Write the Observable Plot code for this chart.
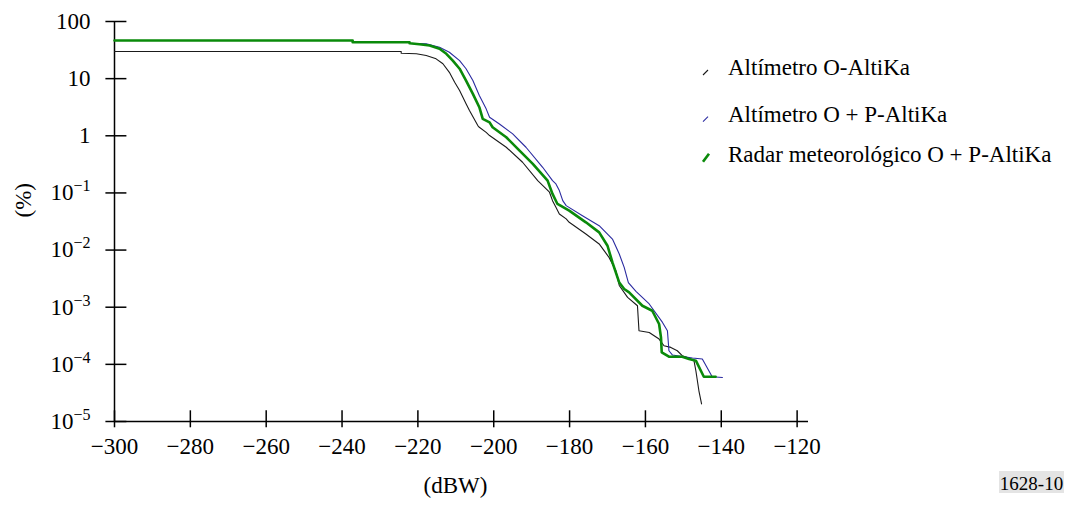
<!DOCTYPE html>
<html><head><meta charset="utf-8">
<script src="https://cdn.jsdelivr.net/npm/d3@7"></script>
<script src="https://cdn.jsdelivr.net/npm/@observablehq/plot@0.6"></script>
<style>
body{margin:0;background:#fff;}
#wrap{position:relative;width:1072px;height:507px;overflow:hidden;background:#fff;font-family:"Liberation Serif","DejaVu Serif",serif;}
#wrap svg{position:absolute;left:0;top:0;}
#wrap text{font-family:"Liberation Serif","DejaVu Serif",serif !important;}
</style></head><body><div id="wrap"></div>
<script>
const FONT = "'Liberation Serif', 'DejaVu Serif', serif";

const seriesNames = ["Altímetro O-AltiKa", "Altímetro O + P-AltiKa", "Radar meteorológico O + P-AltiKa"];
const seriesColors = ["#1a1a1a", "#2a2aa0", "#0a8a0a"];
const seriesWidths = [1.1, 1.1, 2.6];

// Altímetro O-AltiKa
const xO = [-300, -224.4, -224.4, -220.4, -217.8, -215.2, -213.4, -211.7, -210.3, -209.0, -207.3, -206.4, -204.2, -203.8, -202.0, -201.1, -196.7, -192.4, -188.4, -185.3, -184.5, -183.6, -182.7, -180.9, -180.1, -175.7, -172.2, -170.9, -169.6, -168.7, -167.8, -166.9, -164.7, -162.1, -161.7, -159.0, -156.4, -155.1, -153.3, -151.6, -150.3, -148.5, -147.2, -146.7, -145.9, -145.2];
const yO = [29.8, 29.8, 27.9, 27.2, 25.4, 22.2, 18.2, 12.9, 8.65, 6.19, 3.62, 2.76, 1.51, 1.41, 1.15, 1.01, 0.63, 0.344, 0.164, 0.103, 0.0733, 0.056, 0.0429, 0.0351, 0.0306, 0.0191, 0.0128, 0.00976, 0.00745, 0.00571, 0.00436, 0.0024, 0.00149, 0.00106, 0.000387, 0.000362, 0.000277, 0.000212, 0.000198, 0.000173, 0.000142, 0.000129, 0.000116, 0.0000773, 0.0000345, 0.0000203];

// Altímetro O + P-AltiKa
const xOP = [-300, -237.2, -237.2, -222.2, -222.2, -217.8, -214.3, -211.7, -209.0, -207.3, -205.5, -203.8, -202.0, -201.1, -198.5, -195.0, -191.5, -187.1, -184.5, -183.6, -182.7, -181.8, -180.9, -176.6, -172.2, -168.7, -166.9, -165.6, -164.5, -162.5, -159.0, -155.5, -154.2, -153.8, -152.9, -147.6, -145.0, -142.4, -139.7];
const yOP = [46.5, 46.5, 43.4, 43.4, 41.7, 40.7, 35.5, 29.0, 20.7, 14.9, 9.26, 5.06, 2.96, 2.11, 1.61, 1.08, 0.63, 0.281, 0.164, 0.144, 0.110, 0.0733, 0.06, 0.04, 0.0267, 0.0156, 0.00855, 0.00498, 0.0027, 0.0019, 0.00114, 0.000542, 0.000387, 0.000173, 0.000146, 0.000129, 0.000124, 0.0000607, 0.000059];

// Radar meteorológico O + P-AltiKa
const xRadar = [-300, -237.2, -237.2, -222.2, -222.2, -219.6, -216.9, -214.3, -212.5, -210.8, -209.0, -207.3, -205.5, -203.8, -202.9, -201.1, -200.3, -196.7, -193.2, -189.7, -186.2, -185.8, -184.5, -183.2, -180.1, -175.7, -172.2, -170.0, -168.7, -166.9, -165.6, -164.3, -160.8, -158.2, -156.4, -155.9, -155.7, -153.8, -150.3, -148.5, -146.7, -144.6, -141.5];
const yRadar = [46.5, 46.5, 43.4, 43.4, 41.7, 40.0, 38.0, 33.3, 27.2, 20.7, 14.9, 9.26, 5.42, 3.16, 1.98, 1.72, 1.41, 0.942, 0.551, 0.322, 0.176, 0.164, 0.096, 0.0641, 0.049, 0.0306, 0.0204, 0.0119, 0.00609, 0.0027, 0.00208, 0.00182, 0.00106, 0.000868, 0.000508, 0.000296, 0.000162, 0.000136, 0.000136, 0.000124, 0.000116, 0.0000607, 0.0000607];

const xTicks = [-300, -280, -260, -240, -220, -200, -180, -160, -140, -120];
const yTicks = [100, 10, 1, 1e-1, 1e-2, 1e-3, 1e-4, 1e-5];
const xLabel = "(dBW)";
const yLabel = "(%)";
const figId = "1628-10";

const seriesX = [xO, xOP, xRadar];
const seriesY = [yO, yOP, yRadar];
const rows = seriesX.map((xs, s) => xs.map((x, i) => ({s, x, y: seriesY[s][i]})));

const fmtY = d => d >= 1 ? String(d) : "10^" + Math.round(Math.log10(d));

const chart = Plot.plot({
  width: 1072, height: 507,
  marginLeft: 114, marginRight: 264, marginTop: 21, marginBottom: 86,
  style: {fontFamily: FONT, fontSize: "23px", color: "#000", background: "#fff", overflow: "visible"},
  x: {type: "linear", domain: [-300, -117]},
  y: {type: "log", domain: [1e-5, 100]},
  marks: [
    Plot.ruleY([1e-5], {stroke: "#000", strokeWidth: 1.5}),
    Plot.ruleX([-300], {y1: 1e-5, y2: 100, stroke: "#000", strokeWidth: 1.5}),
    Plot.axisX(xTicks, {tickSize: 17, dy: -10.7, fill: "none", stroke: "#000", strokeWidth: 1.5, label: null}),
    Plot.axisX(xTicks, {tickSize: 0, tickPadding: 16, stroke: "none", fill: "#000", fontSize: 23, tickFormat: d => "\u2212" + Math.abs(d), label: null}),
    Plot.axisY(yTicks, {tickSize: 21, dx: 12.4, fill: "none", stroke: "#000", strokeWidth: 1.5, label: null}),
    Plot.axisY(yTicks, {tickSize: 0, tickPadding: 24, stroke: "none", fill: "#000", fontSize: 23, tickFormat: fmtY, label: null}),
    ...rows.map((r, s) => Plot.line(r, {x: "x", y: "y", stroke: seriesColors[s], strokeWidth: seriesWidths[s], curve: "linear"})),
    Plot.text([xLabel], {frameAnchor: "bottom", dx: -6, dy: 71, fontSize: 23, fill: "#000"}),
    Plot.text([yLabel], {frameAnchor: "left", dx: -91, dy: -4, rotate: -90, fontSize: 23, fill: "#000"})
  ]
});

chart.querySelectorAll('g[aria-label="y-axis tick label"] text').forEach(t => {
  const s = t.textContent;
  if (s.includes("^")) {
    const [b, e] = s.split("^");
    t.textContent = b;
    const ts = document.createElementNS("http://www.w3.org/2000/svg", "tspan");
    ts.setAttribute("dy", "-9");
    ts.setAttribute("font-size", "16");
    ts.textContent = "\u2212" + Math.abs(+e);
    t.appendChild(ts);
  }
});

const wrap = document.getElementById("wrap");
wrap.appendChild(chart);

const NS = "http://www.w3.org/2000/svg";
const ov = document.createElementNS(NS, "svg");
ov.setAttribute("width", 1072); ov.setAttribute("height", 507);
ov.setAttribute("font-family", FONT);
const baselines = [75, 121.7, 161.7];
seriesNames.forEach((name, i) => {
  const ln = document.createElementNS(NS, "line");
  const len = i === 2 ? 8 : 5;
  ln.setAttribute("x1", 703); ln.setAttribute("y1", baselines[i]);
  ln.setAttribute("x2", 703 + (i === 2 ? 6 : 5)); ln.setAttribute("y2", baselines[i] - len);
  ln.setAttribute("stroke", seriesColors[i]); ln.setAttribute("stroke-width", i === 2 ? 2.6 : 1.1);
  ov.appendChild(ln);
  const tx = document.createElementNS(NS, "text");
  tx.setAttribute("x", 728); tx.setAttribute("y", baselines[i]);
  tx.setAttribute("font-size", 23); tx.setAttribute("fill", "#000");
  tx.textContent = name;
  ov.appendChild(tx);
});
const rc = document.createElementNS(NS, "rect");
rc.setAttribute("x", 999); rc.setAttribute("y", 471); rc.setAttribute("width", 65); rc.setAttribute("height", 22);
rc.setAttribute("fill", "#e4e4e4");
ov.appendChild(rc);
const fid = document.createElementNS(NS, "text");
fid.setAttribute("x", 1031.5); fid.setAttribute("y", 489.5);
fid.setAttribute("text-anchor", "middle");
fid.setAttribute("font-size", 19);
fid.textContent = figId;
ov.appendChild(fid);
wrap.appendChild(ov);
</script>
</body></html>
